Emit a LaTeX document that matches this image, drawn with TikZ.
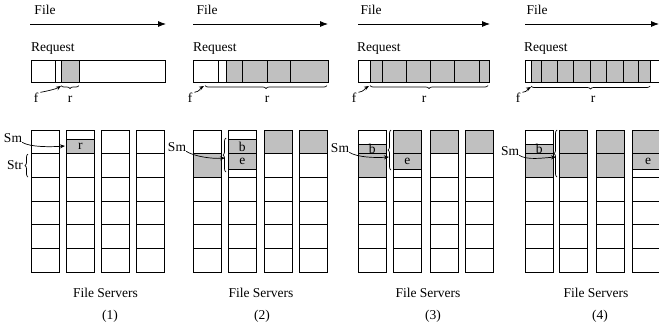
\documentclass[tikz,border=0pt]{standalone}
\usepackage{fontspec}
\setmainfont{Liberation Serif}
\usetikzlibrary{arrows.meta,positioning,calc,decorations.pathreplacing}
\definecolor{cellgray}{HTML}{C0C0C0}

\begin{document}
\begin{tikzpicture}[x=1pt, y=-1pt,
  lbl/.style={font=\fontsize{13.5}{16}\selectfont, inner sep=0pt},
  bar/.style={draw, line width=0.8pt},
  busy/.style={draw, fill=cellgray, line width=0.8pt},
  fileline/.style={-{Latex[length=8pt,width=6pt]}, line width=0.8pt},
  ptr/.style={-{Stealth[length=5pt,width=4pt]}, line width=0.7pt},
  brc/.style={decorate, decoration={brace, amplitude=3pt}, line width=0.7pt}
]
  \useasboundingbox (0,0) rectangle (659,333);

  % file direction
  \node[lbl, anchor=base] (file1) at (45,14) {File};
  \node[lbl, anchor=base] (file2) at (207,14) {File};
  \node[lbl, anchor=base] (file3) at (371,14) {File};
  \node[lbl, anchor=base] (file4) at (537,14) {File};
  \coordinate (fs1) at (30,24);  \coordinate (fe1) at (166,24);
  \coordinate (fs2) at (193,24); \coordinate (fe2) at (328,24);
  \coordinate (fs3) at (358,24); \coordinate (fe3) at (490,24);
  \coordinate (fs4) at (525,24); \coordinate (fe4) at (659,24);
  \foreach \i in {1,...,4} \draw[fileline] (fs\i) -- (fe\i);

  % request bars
  \node[lbl, anchor=base west] (req1) at (31,51) {Request};
  \node[lbl, anchor=base west] (req2) at (193,51) {Request};
  \node[lbl, anchor=base west] (req3) at (357,51) {Request};
  \node[lbl, anchor=base west] (req4) at (524,51) {Request};

  \draw[bar] (31,60) rectangle (165,82);
  \draw[busy] (61,60) rectangle (79,82);
  \draw[bar] (55,60) -- (55,82);

  \draw[bar] (193,60) rectangle (328,82);
  \draw[busy] (226,60) rectangle (328,82);
  \foreach \x in {218,242,267,290} \draw[bar] (\x,60) -- (\x,82);

  \draw[bar] (358,60) rectangle (489,82);
  \draw[busy] (370,60) rectangle (489,82);
  \foreach \x in {382,406,430,454,479} \draw[bar] (\x,60) -- (\x,82);

  \draw[bar] (525,60) rectangle (662,82);
  \draw[busy] (531,60) rectangle (650,82);
  \foreach \x in {541,557,573,590,606,623,638} \draw[bar] (\x,60) -- (\x,82);

  % offset f and request size r
  \node[lbl, anchor=base] (f1) at (36,102) {f};
  \node[lbl, anchor=base] (f2) at (190,102) {f};
  \node[lbl, anchor=base] (f3) at (354,102) {f};
  \node[lbl, anchor=base] (f4) at (518,102) {f};
  \coordinate (fp1) at (61,86);
  \coordinate (fp2) at (204,86);
  \coordinate (fp3) at (369,86);
  \coordinate (fp4) at (531,87);
  \foreach \i in {1,...,4}
    \draw[ptr] ([xshift=2pt]f\i.north east) .. controls +(6,-1) and +(-5,3) .. (fp\i);

  \node[lbl, anchor=base] (r1) at (70,102) {r};
  \node[lbl, anchor=base] (r2) at (267,102) {r};
  \node[lbl, anchor=base] (r3) at (424,102) {r};
  \node[lbl, anchor=base] (r4) at (593,102) {r};
  \draw[brc] (79,85.5) -- (61,85.5);
  \draw[brc] (327,85.5) -- (205,85.5);
  \draw[brc] (488,85.5) -- (370,85.5);
  \draw[brc] (650,86) -- (531,86);

  % busy stripe units on the servers
  \draw[busy] (66,139) rectangle ++(28.5,14.7);

  \draw[busy] (193,153.7) rectangle ++(28.5,23.6);
  \draw[busy] (228,139) rectangle ++(28.5,14.7);
  \draw[busy] (228,153.7) rectangle ++(28.5,15.3);
  \draw[busy] (264,130) rectangle ++(28.5,23.7);
  \draw[busy] (299,130) rectangle ++(28.5,23.7);

  \draw[busy] (358,144) rectangle ++(28.5,33.3);
  \draw[busy] (393,130) rectangle ++(28.5,23.7);
  \draw[busy] (393,153.7) rectangle ++(28.5,15.3);
  \draw[busy] (430,130) rectangle ++(28.5,23.7);
  \draw[busy] (465,130) rectangle ++(28.5,23.7);

  \draw[busy] (525,144) rectangle ++(28.5,33.3);
  \draw[busy] (559,130) rectangle ++(28.5,47.3);
  \draw[busy] (596,130) rectangle ++(28.5,47.3);
  \draw[busy] (632,130) rectangle ++(28.5,23.7);
  \draw[busy] (632,153.7) rectangle ++(28.5,15.3);

  % server columns
  \foreach \x in {31,66,101,136,193,228,264,299,358,393,430,465,525,559,596,632} {
    \draw[bar] (\x,130) rectangle ++(28.5,142);
    \foreach \y in {153.7,177.3,201,224.7,248.3}
      \draw[bar] (\x,\y) -- ++(28.5,0);
  }

  \node[lbl] (cr1) at (80.25,146.5) {r};
  \node[lbl] (cb2) at (242.25,146.5) {b};
  \node[lbl] (ce2) at (242.25,161.5) {e};
  \node[lbl] (cb3) at (372.25,149) {b};
  \node[lbl] (ce3) at (407.25,161.5) {e};
  \node[lbl] (cb4) at (539.25,149) {b};
  \node[lbl] (ce4) at (648,161.5) {e};

  % stripe size and start marker
  \node[lbl, anchor=base] (str) at (15,169) {Str};
  \draw[brc] (28,177) -- (28,154);
  \draw[brc] (226,172) -- (226,138);
  \draw[brc] (391,170) -- (391,130);
  \draw[brc] (557,177) -- (557,130);

  \node[lbl, anchor=base] (sm1) at (13,142) {Sm};
  \node[lbl, anchor=base] (sm2) at (177,151) {Sm};
  \node[lbl, anchor=base] (sm3) at (340,152) {Sm};
  \node[lbl, anchor=base] (sm4) at (510,155) {Sm};
  \coordinate (smt1) at (65,146);
  \coordinate (smt2) at (225,158);
  \coordinate (smt3) at (389,157);
  \coordinate (smt4) at (556,157);
  \foreach \i in {1,...,4}
    \draw[ptr] (sm\i.south east) .. controls +(8,5) and +(-14,1) .. (smt\i);

  % captions
  \node[lbl, anchor=base] (fsv1) at (105.5,297) {File Servers};
  \node[lbl, anchor=base] (fsv2) at (261,297) {File Servers};
  \node[lbl, anchor=base] (fsv3) at (428,297) {File Servers};
  \node[lbl, anchor=base] (fsv4) at (596,297) {File Servers};
  \node[lbl, anchor=base] (cap1) at (110,319) {(1)};
  \node[lbl, anchor=base] (cap2) at (262,319) {(2)};
  \node[lbl, anchor=base] (cap3) at (433,319) {(3)};
  \node[lbl, anchor=base] (cap4) at (600,319) {(4)};
\end{tikzpicture}
\end{document}
